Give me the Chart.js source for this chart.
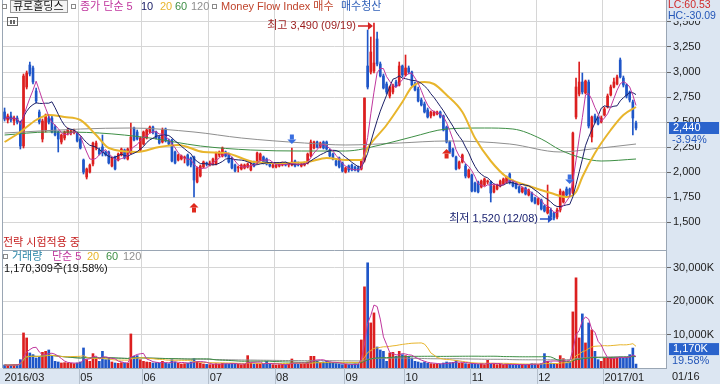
<!DOCTYPE html>
<html>
<head>
<meta charset="utf-8">
<script src="https://cdn.jsdelivr.net/npm/chart.js@4.4.0/dist/chart.umd.min.js"></script>
<style>
  html, body { margin: 0; padding: 0; background: #fff; }
  #wrap { position: relative; width: 720px; height: 384px; }
</style>
</head>
<body>
<div id="wrap"><canvas id="chart" width="720" height="384"></canvas></div>
<script>
// ---- categories: trading days per month, month tick labels ----
const monthLabels = ['2016/03', '04', '05', '06', '07', '08', '09', '10', '11', '12', '2017/01'];
const monthDays = [3, 21, 20, 21, 21, 22, 19, 21, 21, 21, 11];
const hiddenTickLabels = ['04'];
const emptySlots = 9;
const priceTicks = [1500, 1750, 2000, 2250, 2500, 2750, 3000, 3250, 3500];
const volumeTicks = [10000, 20000, 30000];

// ---- daily candles (won) ----
const opens = [
  2600, 2520, 2560,
  2510, 2540, 2490, 2260, 2850, 3070, 3040, 2810, 2600, 2330, 2420, 2540, 2540, 2450, 2400, 2300, 2340, 2390, 2390, 2400, 2390,
  2330, 2120, 1950, 2000, 2080, 2240, 2220, 2250, 2200, 2200, 2060, 2150, 2120, 2170, 2220, 2130, 2190, 2440, 2400, 2220,
  2280, 2340, 2400, 2450, 2400, 2350, 2300, 2430, 2320, 2320, 2200, 2120, 2130, 2140, 2170, 2140, 2150, 1900, 1960, 2050, 2090,
  2070, 2080, 2080, 2170, 2160, 2200, 2180, 2140, 2070, 2040, 2030, 2040, 2050, 2020, 2100, 2090, 2120, 2150, 2130, 2080, 2050,
  2050, 2060, 2070, 2080, 2070, 2070, 2110, 2080, 2060, 2070, 2090, 2160, 2240, 2300, 2250, 2300, 2300, 2220, 2180, 2110, 2140, 2090,
  2000, 2060, 2070, 2050, 2040, 2030, 2120, 3060, 3000, 3010, 3330, 3080, 2960, 2880, 2760, 2800, 2900, 2870, 3060,
  2970, 3040, 3000, 2880, 2830, 2720, 2680, 2620, 2560, 2570, 2580, 2600, 2560, 2450, 2300, 2230, 2150, 2040, 2100, 2060, 1950,
  1970, 1890, 1900, 1850, 1870, 1900, 1900, 1800, 1830, 1860, 1880, 1900, 1980, 1900, 1880, 1850, 1800, 1840, 1770, 1790, 1740,
  1680, 1720, 1660, 1590, 1620, 1590, 1550, 1620, 1700, 1830, 1830, 1790, 2550, 2780, 2900, 2790, 2900, 2350, 2560, 2540, 2500,
  2570, 2650, 2770, 2850, 2880, 3120, 2940, 2870, 2800, 2700, 2490
];
const highs = [
  2640, 2580, 2600,
  2560, 2560, 2510, 2980, 3010, 3100, 3060, 2840, 2620, 2530, 2580, 2560, 2560, 2470, 2410, 2380, 2410, 2440, 2420, 2430, 2400,
  2350, 2130, 2040, 2080, 2300, 2310, 2240, 2370, 2210, 2210, 2150, 2160, 2190, 2240, 2230, 2240, 2490, 2450, 2420, 2350,
  2410, 2430, 2460, 2460, 2410, 2360, 2440, 2440, 2330, 2330, 2210, 2180, 2170, 2160, 2180, 2150, 2160, 2050, 2070, 2110, 2100,
  2110, 2140, 2200, 2210, 2250, 2210, 2190, 2150, 2080, 2060, 2080, 2080, 2090, 2110, 2110, 2200, 2190, 2160, 2140, 2090, 2080,
  2080, 2090, 2100, 2100, 2090, 2240, 2120, 2100, 2090, 2100, 2190, 2320, 2310, 2310, 2300, 2310, 2310, 2230, 2190, 2120, 2150, 2100,
  2050, 2070, 2080, 2060, 2060, 2120, 2740, 3420, 3350, 3490, 3400, 3100, 2980, 2900, 2860, 2880, 2920, 3100, 3070,
  3170, 3060, 3010, 2900, 2850, 2740, 2700, 2640, 2610, 2610, 2610, 2610, 2570, 2460, 2310, 2240, 2160, 2110, 2180, 2080, 2030,
  1980, 1900, 1910, 1920, 1940, 1920, 1910, 1870, 1880, 1920, 1940, 1960, 1990, 1920, 1890, 1860, 1850, 1850, 1830, 1800, 1750,
  1740, 1730, 1670, 1870, 1640, 1600, 1640, 1830, 1810, 1850, 1840, 2400, 2940, 3100, 2990, 2920, 2920, 2560, 2580, 2550, 2560,
  2650, 2780, 2870, 2940, 2970, 3140, 2960, 2880, 2810, 2720, 2510
];
const lows = [
  2510, 2490, 2500,
  2470, 2480, 2230, 2240, 2830, 2960, 2880, 2690, 2480, 2300, 2400, 2480, 2390, 2360, 2200, 2280, 2320, 2370, 2370, 2380, 2300,
  2230, 1980, 1930, 1990, 2060, 2220, 2170, 2160, 2160, 2080, 2050, 2020, 2110, 2160, 2130, 2120, 2180, 2310, 2320, 2210,
  2270, 2330, 2390, 2380, 2330, 2280, 2290, 2300, 2270, 2100, 2080, 2110, 2120, 2090, 2060, 2050, 1750, 1890, 1950, 2040, 2060,
  2060, 2070, 2070, 2150, 2150, 2150, 2090, 2030, 2000, 2000, 2020, 2030, 2040, 2010, 2050, 2080, 2110, 2080, 2070, 2050, 2040,
  2040, 2050, 2060, 2060, 2050, 2060, 2050, 2060, 2050, 2060, 2080, 2150, 2230, 2240, 2240, 2230, 2220, 2150, 2120, 2060, 2040, 2000,
  1990, 2000, 2010, 2010, 2000, 2020, 2100, 2830, 2980, 2990, 3060, 2950, 2830, 2780, 2740, 2780, 2850, 2860, 2950,
  2960, 2980, 2860, 2810, 2700, 2660, 2590, 2540, 2540, 2560, 2570, 2540, 2410, 2290, 2190, 2150, 2020, 2030, 2090, 1940, 1940,
  1800, 1800, 1790, 1840, 1860, 1880, 1700, 1790, 1820, 1850, 1870, 1890, 1880, 1850, 1830, 1790, 1790, 1770, 1760, 1700, 1680,
  1670, 1620, 1600, 1580, 1540, 1520, 1530, 1600, 1690, 1760, 1760, 1780, 2530, 2760, 2780, 2780, 2440, 2300, 2490, 2470, 2490,
  2560, 2640, 2760, 2840, 2870, 2940, 2850, 2740, 2700, 2370, 2420
];
const closes = [
  2530, 2560, 2520,
  2540, 2500, 2260, 2960, 2990, 2980, 2900, 2710, 2500, 2510, 2570, 2500, 2400, 2370, 2330, 2370, 2400, 2420, 2410, 2420, 2310,
  2240, 2000, 2030, 2070, 2290, 2290, 2180, 2190, 2170, 2090, 2140, 2030, 2180, 2230, 2140, 2230, 2350, 2320, 2330, 2340,
  2400, 2420, 2450, 2400, 2340, 2290, 2420, 2310, 2280, 2110, 2090, 2170, 2160, 2150, 2070, 2070, 1920, 2040, 2060, 2100, 2080,
  2090, 2130, 2190, 2200, 2240, 2160, 2100, 2040, 2010, 2050, 2070, 2070, 2080, 2060, 2060, 2190, 2180, 2090, 2080, 2060, 2070,
  2070, 2080, 2090, 2070, 2080, 2100, 2060, 2070, 2080, 2090, 2180, 2300, 2300, 2250, 2290, 2240, 2230, 2160, 2130, 2070, 2050, 2010,
  2040, 2020, 2020, 2020, 2010, 2110, 2740, 2850, 3200, 3090, 3080, 2960, 2840, 2800, 2850, 2870, 2860, 3060, 2970,
  3040, 3000, 2870, 2820, 2710, 2670, 2600, 2550, 2600, 2600, 2600, 2550, 2420, 2300, 2200, 2160, 2030, 2100, 2170, 1960, 2020,
  1810, 1810, 1800, 1910, 1930, 1910, 1790, 1860, 1870, 1910, 1930, 1950, 1900, 1860, 1840, 1800, 1840, 1780, 1820, 1710, 1690,
  1730, 1630, 1610, 1650, 1550, 1540, 1620, 1810, 1800, 1770, 1780, 2390, 2850, 2900, 2800, 2910, 2460, 2550, 2500, 2480, 2540,
  2630, 2760, 2850, 2900, 2950, 2950, 2870, 2760, 2720, 2540, 2440
];

// ---- daily volume (thousand shares) ----
const volumes = [
  900, 800, 900,
  1000, 1100, 2500, 10500, 9000, 4500, 4000, 3000, 3500, 4700, 5000, 5400, 3500, 2000, 1800, 1500, 1600, 1500, 1400, 1300, 1500,
  1800, 6000, 2500, 2000, 4300, 3000, 2000, 5000, 2500, 3000, 1800, 1500, 1400, 1600, 1500, 1400, 10200, 3500, 3700, 2500,
  2000, 1800, 1700, 1500, 1600, 1400, 2000, 1500, 1300, 2500, 1800, 1400, 1200, 1300, 1500, 1800, 2800, 2000, 1500, 1200, 1100,
  1000, 1100, 1300, 1200, 1400, 1300, 1200, 1400, 1300, 1100, 1000, 1100, 3700, 1500, 1200, 1300, 1200, 1100, 2000, 1200, 1000,
  900, 1000, 1100, 1000, 1200, 2700, 1300, 1100, 1200, 1300, 1800, 3500, 3500, 2000, 1500, 1800, 2000, 1800, 1500, 1300, 1200, 1000,
  1100, 1000, 1100, 1200, 1100, 8400, 24300, 31500, 13500, 16500, 6300, 5400, 5000, 2000, 4500, 4700, 3500, 5000, 4000,
  3700, 3500, 3000, 2000, 1800, 1500, 1800, 1400, 1300, 1200, 1100, 1200, 1500, 1800, 1600, 1700, 2300, 1400, 1500, 1300, 1200,
  1400, 1200, 1100, 1300, 1000, 2300, 1100, 1200, 1000, 1100, 1000, 1200, 1100, 1000, 900, 1000, 1100, 1000, 1100, 1300, 1200,
  1100, 1300, 4300, 2000, 1500, 1400, 1200, 3700, 2800, 1500, 1700, 16800, 27000, 9000, 16200, 7500, 13500, 11400, 5000, 2500, 2000,
  3000, 3000, 3200, 3000, 3100, 3300, 3000, 3200, 4000, 5977, 1170.309
];

// ---- moving averages (day index, won) ----
const ma20Days = [0, 5, 10, 14, 19, 24, 29, 33, 42, 49, 55, 63, 70, 79, 87, 96, 102, 108, 113, 115, 121, 126, 129, 133, 136, 140, 145, 149, 154, 159, 167, 173, 178, 181, 183, 187, 192, 196, 200];
const ma20Vals = [2300, 2400, 2520, 2570, 2550, 2520, 2370, 2240, 2200, 2250, 2270, 2200, 2190, 2100, 2090, 2100, 2140, 2120, 2120, 2240, 2470, 2700, 2850, 2900, 2880, 2770, 2600, 2340, 2110, 1950, 1850, 1790, 1750, 1800, 1950, 2190, 2420, 2570, 2650];
const ma60Days = [0, 14, 30, 46, 62, 78, 94, 108, 119, 129, 140, 152, 161, 170, 176, 183, 189, 200];
const ma60Vals = [2370, 2400, 2390, 2340, 2260, 2220, 2210, 2210, 2270, 2350, 2430, 2440, 2430, 2330, 2220, 2140, 2110, 2130];
const ma120Days = [0, 24, 40, 60, 75, 95, 108, 125, 140, 160, 176, 186, 200];
const ma120Vals = [2390, 2430, 2440, 2400, 2340, 2290, 2270, 2290, 2310, 2280, 2200, 2230, 2280];

// ---- signals and header values ----
const buySignals = [60, 140];
const sellSignals = [91, 179];
const highDate = '09/19';
const lowDate = '12/08';
const stockName = '큐로홀딩스';
const mfiLC = '60.53';
const mfiHC = '-30.09';
const lastDate = '01/16';

// ---- colours ----
const RED = '#dc1f1f', BLUE = '#1f56c8';
const C5 = '#c0379e', C10 = '#1d2168', C20 = '#e8b52c', C60 = '#3e8f45', C120 = '#8f8f8f';
const GRID = '#d6d6d6', PANEL = '#dce6f2', EDGE = '#9aa6b4';

// ---- derived ----
const slotLabels = [];
monthLabels.forEach((m, k) => { for (let d = 0; d < monthDays[k]; d++) slotLabels.push(d === 0 ? m : ''); });
for (let k = 0; k < emptySlots; k++) slotLabels.push('');
const shownLabel = i => (slotLabels[i] && !hiddenTickLabels.includes(slotLabels[i])) ? slotLabels[i] : '';

function sma(src, n) {
  return src.map((_, i) => {
    const from = Math.max(0, i - n + 1);
    let s = 0;
    for (let k = from; k <= i; k++) s += src[k];
    return s / (i - from + 1);
  });
}
function sparse(days, vals) {
  const out = slotLabels.map(() => null);
  days.forEach((d, j) => { out[d] = vals[j]; });
  return out;
}
const candleColor = closes.map((c, i) => c >= opens[i] ? RED : BLUE);
const fmt = v => Math.round(v).toLocaleString('en-US');
const FONT = '"Liberation Sans", "Noto Sans CJK KR", sans-serif';

const line = (label, data, axis, color, width, smooth) => ({
  type: 'line', label, data, yAxisID: axis, borderColor: color, borderWidth: width,
  pointRadius: 0, fill: false, order: 1, spanGaps: true,
  cubicInterpolationMode: smooth ? 'monotone' : 'default', tension: 0
});
const noPad = s => { s.paddingTop = 0; s.paddingBottom = 0; s.paddingLeft = 0; s.paddingRight = 0; };

function upArrow(ctx, x, y, color) {
  ctx.fillStyle = color;
  ctx.beginPath();
  ctx.moveTo(x, y); ctx.lineTo(x + 4.5, y + 4.5); ctx.lineTo(x - 4.5, y + 4.5); ctx.closePath();
  ctx.fill();
  ctx.fillRect(x - 2, y + 4.5, 4, 5);
}
function downArrow(ctx, x, y, color) {
  ctx.fillStyle = color;
  ctx.fillRect(x - 2, y - 9.5, 4, 5);
  ctx.beginPath();
  ctx.moveTo(x, y); ctx.lineTo(x + 4.5, y - 4.5); ctx.lineTo(x - 4.5, y - 4.5); ctx.closePath();
  ctx.fill();
}
function smallBox(ctx, x, y) {
  ctx.strokeStyle = '#8a8a8a'; ctx.lineWidth = 1;
  ctx.strokeRect(x + 0.5, y + 0.5, 4, 4);
}

const decor = {
  id: 'decor',
  beforeDraw(chart) {
    const { ctx, chartArea: a } = chart;
    ctx.save();
    ctx.fillStyle = '#fff';
    ctx.fillRect(0, 0, chart.width, chart.height);
    ctx.fillStyle = PANEL;
    ctx.fillRect(a.right, 0, chart.width - a.right, chart.height);
    ctx.fillRect(0, a.bottom, a.right, chart.height - a.bottom);
    ctx.restore();
  },
  afterDraw(chart) {
    const { ctx, chartArea: a, scales } = chart;
    const x = scales.x, y = scales.y, yv = scales.yv;
    ctx.save();
    ctx.textBaseline = 'middle';
    ctx.textAlign = 'left';

    // frame, panel separator, month separators in the date strip
    ctx.strokeStyle = EDGE; ctx.lineWidth = 1;
    ctx.beginPath();
    ctx.moveTo(a.left - 0.5, 0); ctx.lineTo(a.left - 0.5, a.bottom);
    ctx.moveTo(a.left, y.bottom + 0.5); ctx.lineTo(a.right, y.bottom + 0.5);
    ctx.stroke();
    ctx.strokeStyle = '#b4bfcc';
    ctx.beginPath();
    slotLabels.forEach((_, i) => {
      if (i > 0 && shownLabel(i)) {
        const gx = Math.round((x.getPixelForValue(i - 1) + x.getPixelForValue(i)) / 2) + 0.5;
        ctx.moveTo(gx, a.bottom); ctx.lineTo(gx, chart.height);
      }
    });
    ctx.stroke();

    // header legend
    ctx.font = '11px ' + FONT;
    smallBox(ctx, 2, 4);
    ctx.fillStyle = '#f4f4f4'; ctx.fillRect(10, 0, 58, 13);
    ctx.strokeStyle = '#9a9a9a'; ctx.strokeRect(10.5, 0.5, 57, 12);
    ctx.fillStyle = '#111';
    ctx.fillText(stockName, 13, 7);
    smallBox(ctx, 71, 4);
    [['종가 단순 5', C5, 80], ['10', C10, 141], ['20', C20, 160], ['60', C60, 175], ['120', C120, 191]].forEach(([t, c, px]) => {
      ctx.fillStyle = c; ctx.fillText(t, px, 7);
    });
    smallBox(ctx, 212, 4);
    ctx.fillStyle = '#c0442c'; ctx.fillText('Money Flow Index 매수', 221, 7);
    ctx.fillStyle = '#2f5fb8'; ctx.fillText('매수청산', 341, 7);
    // little tool icon
    ctx.strokeStyle = '#666'; ctx.strokeRect(7.5, 17.5, 10, 8);
    ctx.fillStyle = '#666'; ctx.fillRect(10, 20, 2, 4); ctx.fillRect(13, 20, 2, 4);

    ctx.fillStyle = '#c62020'; ctx.fillText('전략 시험적용 중', 3, 243);

    // volume legend
    smallBox(ctx, 3, 254);
    [['거래량', '#2b86a8', 12], ['단순 5', C5, 52], ['20', C20, 87], ['60', C60, 106], ['120', C120, 123]].forEach(([t, c, px]) => {
      ctx.fillStyle = c; ctx.fillText(t, px, 257);
    });
    const lastVol = volumes[volumes.length - 1], prevVol = volumes[volumes.length - 2];
    ctx.fillStyle = '#111';
    ctx.fillText(fmt(lastVol * 1000) + '주(' + (lastVol / prevVol * 100).toFixed(2) + '%)', 4, 269);

    // high / low markers
    const maxHigh = Math.max(...highs), hi = highs.indexOf(maxHigh);
    const hx = x.getPixelForValue(hi), hy = y.getPixelForValue(maxHigh) + 3;
    ctx.textAlign = 'right'; ctx.fillStyle = '#9a1c1c';
    ctx.fillText('최고 ' + fmt(maxHigh) + ' (' + highDate + ')', hx - 18, hy);
    ctx.strokeStyle = '#d42020'; ctx.lineWidth = 1.5;
    ctx.beginPath(); ctx.moveTo(hx - 16, hy); ctx.lineTo(hx - 4, hy); ctx.stroke();
    ctx.fillStyle = '#d42020';
    ctx.beginPath(); ctx.moveTo(hx - 1, hy); ctx.lineTo(hx - 6, hy - 4); ctx.lineTo(hx - 6, hy + 4); ctx.closePath(); ctx.fill();

    const minLow = Math.min(...lows), lo = lows.indexOf(minLow);
    const lx = x.getPixelForValue(lo), ly = y.getPixelForValue(minLow) - 1;
    ctx.fillStyle = '#1c2472';
    ctx.fillText('최저 ' + fmt(minLow) + ' (' + lowDate + ')', lx - 16, ly);
    ctx.strokeStyle = '#2450c8'; ctx.lineWidth = 1.5;
    ctx.beginPath(); ctx.moveTo(lx - 14, ly); ctx.lineTo(lx - 4, ly); ctx.stroke();
    ctx.fillStyle = '#2450c8';
    ctx.beginPath(); ctx.moveTo(lx - 1, ly); ctx.lineTo(lx - 6, ly - 4); ctx.lineTo(lx - 6, ly + 4); ctx.closePath(); ctx.fill();

    // buy / sell signals
    buySignals.forEach(i => upArrow(ctx, x.getPixelForValue(i), y.getPixelForValue(lows[i]) + 6, '#e02a1e'));
    sellSignals.forEach(i => downArrow(ctx, x.getPixelForValue(i), y.getPixelForValue(highs[i]) - 4, '#3a6fe0'));

    // right panel texts
    ctx.textAlign = 'left';
    ctx.fillStyle = PANEL; ctx.fillRect(a.right + 1, 0, chart.width - a.right, 21);
    ctx.font = '10.5px ' + FONT;
    ctx.fillStyle = '#d02a2a'; ctx.fillText('LC:' + mfiLC, a.right + 2, 5);
    ctx.fillStyle = '#2456b8'; ctx.fillText('HC:' + mfiHC, a.right + 2, 16);

    ctx.font = '11px ' + FONT;
    const last = closes[closes.length - 1], prev = closes[closes.length - 2];
    const py = y.getPixelForValue(last);
    ctx.fillStyle = '#2a63cc'; ctx.fillRect(a.right + 3, py - 6, 50, 12);
    ctx.fillStyle = '#fff'; ctx.fillText(fmt(last), a.right + 7, py);
    ctx.fillStyle = PANEL; ctx.fillRect(a.right + 3, py + 6, 50, 10);
    ctx.fillStyle = '#2456b8'; ctx.fillText(((last - prev) / prev * 100).toFixed(2) + '%', a.right + 6, py + 12);

    const vy = yv.getPixelForValue(lastVol) - 15;
    ctx.fillStyle = '#2a63cc'; ctx.fillRect(a.right + 3, vy - 6, 50, 12);
    ctx.fillStyle = '#fff'; ctx.fillText(fmt(lastVol) + 'K', a.right + 7, vy);
    ctx.fillStyle = '#2456b8'; ctx.fillText((lastVol / prevVol * 100).toFixed(2) + '%', a.right + 6, vy + 12);

    ctx.fillStyle = '#222'; ctx.fillText(lastDate, a.right + 6, a.bottom + 9);
    ctx.restore();
  }
};

new Chart(document.getElementById('chart'), {
  type: 'bar',
  data: {
    labels: slotLabels,
    datasets: [
      line('MA5', sma(closes, 5), 'y', C5, 1, false),
      line('MA10', sma(closes, 10), 'y', C10, 1, false),
      line('MA20', sparse(ma20Days, ma20Vals), 'y', C20, 2, true),
      line('MA60', sparse(ma60Days, ma60Vals), 'y', C60, 1, true),
      line('MA120', sparse(ma120Days, ma120Vals), 'y', C120, 1, true),
      { type: 'bar', label: 'wick', data: lows.map((l, i) => [l, highs[i]]), yAxisID: 'y',
        backgroundColor: candleColor, barThickness: 1, grouped: false, order: 3 },
      { type: 'bar', label: 'body', data: opens.map((o, i) => [o, closes[i]]), yAxisID: 'y',
        backgroundColor: candleColor, barThickness: 2, minBarLength: 1, grouped: false, order: 2 },
      { type: 'bar', label: 'volume', data: volumes, yAxisID: 'yv',
        backgroundColor: candleColor, barThickness: 2, grouped: false, order: 3 },
      line('V5', sma(volumes, 5), 'yv', C5, 1, false),
      line('V20', sma(volumes, 20), 'yv', C20, 1, false),
      line('V60', sma(volumes, 60), 'yv', C60, 1, false),
      line('V120', sma(volumes, 120), 'yv', C120, 1, false)
    ]
  },
  options: {
    responsive: false,
    animation: false,
    devicePixelRatio: 1,
    events: [],
    layout: { padding: { left: 3, right: 0, top: 0, bottom: 0 } },
    plugins: { legend: { display: false }, tooltip: { enabled: false } },
    scales: {
      x: {
        type: 'category', offset: true,
        grid: { offset: true, drawTicks: false,
          color: c => (c.index > 0 && shownLabel(c.index)) ? GRID : 'rgba(0,0,0,0)' },
        border: { display: true, color: EDGE },
        ticks: { autoSkip: false, maxRotation: 0, minRotation: 0, align: 'start', padding: 3,
          color: '#222', font: { size: 11, family: FONT }, callback: (v, i) => shownLabel(i) },
        afterFit: s => { s.height = 16; noPad(s); }
      },
      y: {
        position: 'right', stack: 'main', stackWeight: 250, min: 1220, max: 3720,
        grid: { color: GRID, tickLength: 5, tickColor: '#666' },
        border: { display: true, color: EDGE },
        ticks: { padding: 2, color: '#222', font: { size: 11, family: FONT }, callback: v => fmt(v) },
        afterBuildTicks: s => { s.ticks = priceTicks.map(value => ({ value })); },
        afterFit: s => { s.width = 54; noPad(s); }
      },
      yv: {
        position: 'right', stack: 'main', stackWeight: 118, min: 0, max: 35330,
        grid: { color: GRID, tickLength: 5, tickColor: '#666' },
        border: { display: true, color: EDGE },
        ticks: { padding: 2, color: '#222', font: { size: 11, family: FONT }, callback: v => fmt(v) + 'K' },
        afterBuildTicks: s => { s.ticks = volumeTicks.map(value => ({ value })); },
        afterFit: s => { s.width = 54; noPad(s); }
      }
    }
  },
  plugins: [decor]
});
</script>
</body>
</html>
